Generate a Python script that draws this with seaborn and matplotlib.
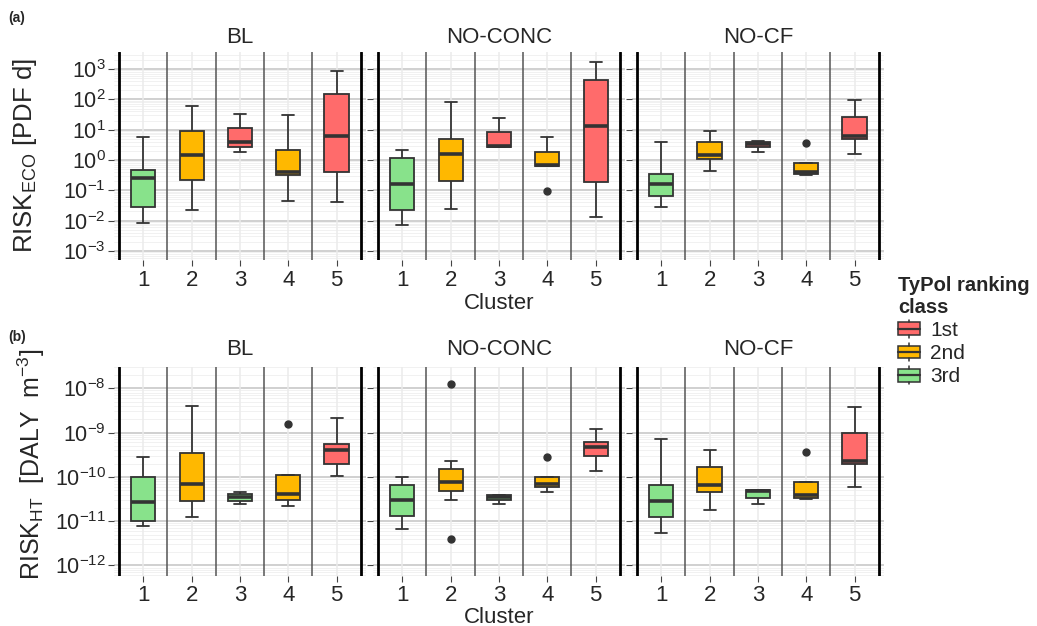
import numpy as np
import pandas as pd
import matplotlib
matplotlib.use('Agg')
import matplotlib.pyplot as plt
import seaborn as sns
from matplotlib.patches import Patch, Rectangle
from matplotlib.lines import Line2D
from matplotlib.legend_handler import HandlerBase
from matplotlib.ticker import LogLocator, NullFormatter, LogFormatterSciNotation

# ---- data: (whisker low, Q1, median, Q3, whisker high) ----
clusters = ['1', '2', '3', '4', '5']
scenarios = ['BL', 'NO-CONC', 'NO-CF']
eco_class = ['3rd', '2nd', '1st', '2nd', '1st']
ht_class = ['3rd', '2nd', '3rd', '2nd', '1st']

eco_stats = {
    'BL': [(0.0086, 0.029, 0.26, 0.45, 5.7),
           (0.0226, 0.22, 1.45, 9.2, 61),
           (1.77, 2.6, 3.9, 11.8, 33.5),
           (0.046, 0.32, 0.41, 2.06, 30),
           (0.041, 0.39, 6.3, 153, 838)],
    'NO-CONC': [(0.007, 0.0226, 0.163, 1.15, 2.06),
                (0.025, 0.2, 1.6, 4.9, 79),
                (2.7, 2.7, 2.9, 8.5, 25),
                (0.61, 0.61, 0.69, 1.8, 5.7),
                (0.0136, 0.195, 12.8, 422, 1700)],
    'NO-CF': [(0.028, 0.065, 0.159, 0.34, 3.8),
              (0.42, 1.09, 1.48, 3.8, 9.4),
              (1.9, 2.72, 3.33, 4.0, 4.1),
              (0.33, 0.35, 0.41, 0.785, 0.785),
              (1.6, 5.1, 6.3, 26, 97)],
}
eco_outliers = {'NO-CONC': {'4': [0.096]}, 'NO-CF': {'4': [3.6]}}

ht_stats = {
    'BL': [(7.6e-12, 1.0e-11, 2.73e-11, 9.7e-11, 2.83e-10),
           (1.23e-11, 2.92e-11, 6.95e-11, 3.4e-10, 3.9e-9),
           (2.46e-11, 2.82e-11, 3.48e-11, 4.14e-11, 4.67e-11),
           (2.22e-11, 3.03e-11, 4.06e-11, 1.13e-10, 1.13e-10),
           (1.05e-10, 1.93e-10, 4.07e-10, 5.65e-10, 2.1e-9)],
    'NO-CONC': [(6.6e-12, 1.32e-11, 3.08e-11, 6.6e-11, 9.8e-11),
                (3.03e-11, 4.83e-11, 7.7e-11, 1.51e-10, 2.33e-10),
                (2.46e-11, 2.98e-11, 3.6e-11, 3.85e-11, 3.85e-11),
                (4.67e-11, 5.85e-11, 6.8e-11, 9.7e-11, 9.7e-11),
                (1.39e-10, 3.03e-10, 4.83e-10, 6.15e-10, 1.19e-9)],
    'NO-CF': [(5.46e-12, 1.27e-11, 2.92e-11, 6.5e-11, 7.2e-10),
              (1.8e-11, 4.67e-11, 6.6e-11, 1.63e-10, 4.07e-10),
              (2.46e-11, 3.42e-11, 4.92e-11, 5.1e-11, 5.1e-11),
              (3.13e-11, 3.3e-11, 3.93e-11, 7.7e-11, 7.7e-11),
              (6.05e-11, 1.93e-10, 2.33e-10, 9.66e-10, 3.7e-9)],
}
ht_outliers = {'BL': {'4': [1.6e-9]},
               'NO-CONC': {'2': [1.23e-8, 3.9e-12], '4': [2.88e-10]},
               'NO-CF': {'4': [3.6e-10]}}

palette = {'1st': '#FF6B6B', '2nd': '#FFB800', '3rd': '#88E28B'}


def build_frame(stats, outliers, classes):
    # 9 values per box so numpy quartiles land on Q1 / median / Q3 exactly
    rows = []
    for sc in scenarios:
        for i, cl in enumerate(clusters):
            lo, q1, med, q3, hi = stats[sc][i]
            vals = [lo, lo, q1, q1, med, q3, q3, hi, hi]
            for o in outliers.get(sc, {}).get(cl, []):
                if o < lo:
                    vals[0] = o
                else:
                    vals[8] = o
            for v in vals:
                rows.append((sc, cl, classes[i], v))
    return pd.DataFrame(rows, columns=['scenario', 'Cluster', 'Class', 'value'])


class BoxKey(HandlerBase):
    # little boxplot glyph like the ggplot legend key
    def create_artists(self, legend, orig_handle, xdescent, ydescent, width, height,
                       fontsize, trans):
        x0, y0 = -xdescent, -ydescent
        cx = x0 + width / 2
        rect = Rectangle((x0, y0 + height * 0.15), width, height * 0.7,
                         facecolor=orig_handle.get_facecolor(), edgecolor='#333333',
                         linewidth=1.1, transform=trans)
        med = Line2D([x0, x0 + width], [y0 + height / 2] * 2, color='#333333',
                     linewidth=1.6, transform=trans)
        top = Line2D([cx, cx], [y0 + height * 0.85, y0 + height], color='#333333',
                     linewidth=1.1, transform=trans)
        bot = Line2D([cx, cx], [y0, y0 + height * 0.15], color='#333333',
                     linewidth=1.1, transform=trans)
        return [rect, med, top, bot]


eco_df = build_frame(eco_stats, eco_outliers, eco_class)
ht_df = build_frame(ht_stats, ht_outliers, ht_class)

sns.set_style('white')
plt.rcParams['font.family'] = ['Liberation Sans', 'DejaVu Sans']
plt.rcParams['mathtext.fontset'] = 'custom'
plt.rcParams['mathtext.rm'] = 'Liberation Sans'
plt.rcParams['mathtext.it'] = 'Liberation Sans:italic'
plt.rcParams['mathtext.bf'] = 'Liberation Sans:bold'

fig = plt.figure(figsize=(10.37, 6.26), dpi=100)

lefts = [0.1102, 0.3600, 0.6097]
width = 0.2423
rows_cfg = [
    (eco_df, 0.5847, 0.333, (10 ** -3.3, 10 ** 3.58), range(-3, 4)),
    (ht_df, 0.0804, 0.334, (10 ** -12.23, 10 ** -7.51), range(-12, -7)),
]

for r, (df, bottom, height, ylim, decades) in enumerate(rows_cfg):
    for j, sc in enumerate(scenarios):
        ax = fig.add_axes([lefts[j], bottom, width, height])
        sub = df[df['scenario'] == sc]
        sns.boxplot(data=sub, x='Cluster', y='value', hue='Class', order=clusters,
                    hue_order=['1st', '2nd', '3rd'], palette=palette, dodge=False,
                    saturation=1, width=0.5, log_scale=True, linecolor='#333333',
                    linewidth=1.3,
                    medianprops=dict(color='#333333', linewidth=2.6),
                    flierprops=dict(marker='o', markerfacecolor='#333333',
                                    markeredgecolor='#333333', markersize=5),
                    legend=False, ax=ax)
        ax.set_ylim(*ylim)
        ax.set_xlim(-0.6, 4.6)
        ax.yaxis.set_minor_locator(LogLocator(base=10, subs=np.arange(2, 10), numticks=20))
        ax.yaxis.set_minor_formatter(NullFormatter())
        ax.set_yticks([10.0 ** d for d in decades])
        ax.yaxis.set_major_formatter(LogFormatterSciNotation())
        ax.grid(False)
        ax.set_axisbelow(True)
        ax.yaxis.grid(True, which='major', color='#c4c4c4', linewidth=1.1)
        ax.yaxis.grid(True, which='minor', color='#efefef', linewidth=0.6)
        for k in range(len(clusters)):
            ax.axvline(k, color='#ebebeb', linewidth=1.1, zorder=0.8)
        for k in range(1, len(clusters)):
            ax.axvline(k - 0.5, color='#555555', linewidth=1.1, zorder=1)
        ax.axvline(-0.5, color='black', linewidth=2.0, zorder=1)
        ax.axvline(4.5, color='black', linewidth=2.0, zorder=1)
        for s in ax.spines.values():
            s.set_visible(False)
        ax.set_xlabel('')
        ax.set_ylabel('')
        ax.tick_params(axis='x', labelsize=16, length=4, color='#444444', pad=3, bottom=True)
        ax.tick_params(axis='y', which='major', labelsize=15.5, length=4, color='#444444', pad=2, left=True)
        ax.tick_params(axis='y', which='minor', length=0)
        if j > 0:
            ax.tick_params(axis='y', labelleft=False)
        ax.set_title(sc, fontsize=16, pad=6 if r == 0 else 8)

fig.text(0.4811, 1 - 309 / 626, 'Cluster', ha='center', va='baseline', fontsize=16)
fig.text(0.4811, 1 - 623 / 626, 'Cluster', ha='center', va='baseline', fontsize=16)

fig.text(0.024, 0.751, r'RISK$_{\mathrm{ECO}}$ [PDF d]', rotation=90,
         ha='center', va='center', fontsize=18.5)
fig.text(0.030, 0.258, r'RISK$_{\mathrm{HT}}$  [DALY  m$^{-3}$]', rotation=90,
         ha='center', va='center', fontsize=18)

fig.text(0.008, 1 - 22 / 626, '(a)', fontsize=10, fontweight='bold')
fig.text(0.008, 1 - 341 / 626, '(b)', fontsize=10, fontweight='bold')

handles = [Patch(facecolor=palette[c], edgecolor='#333333', label=c)
           for c in ['1st', '2nd', '3rd']]
leg = fig.legend(handles=handles, title='TyPol ranking\nclass', loc='upper left',
                 bbox_to_anchor=(0.852, 1 - 261 / 626), frameon=False, fontsize=15,
                 handler_map={Patch: BoxKey()},
                 handlelength=1.05, handleheight=0.95, handletextpad=0.5,
                 labelspacing=0.15, borderpad=0.2, alignment='left')
leg.get_title().set_fontweight('bold')
leg.get_title().set_fontsize(14.5)

fig.savefig('out.png', dpi=100)
